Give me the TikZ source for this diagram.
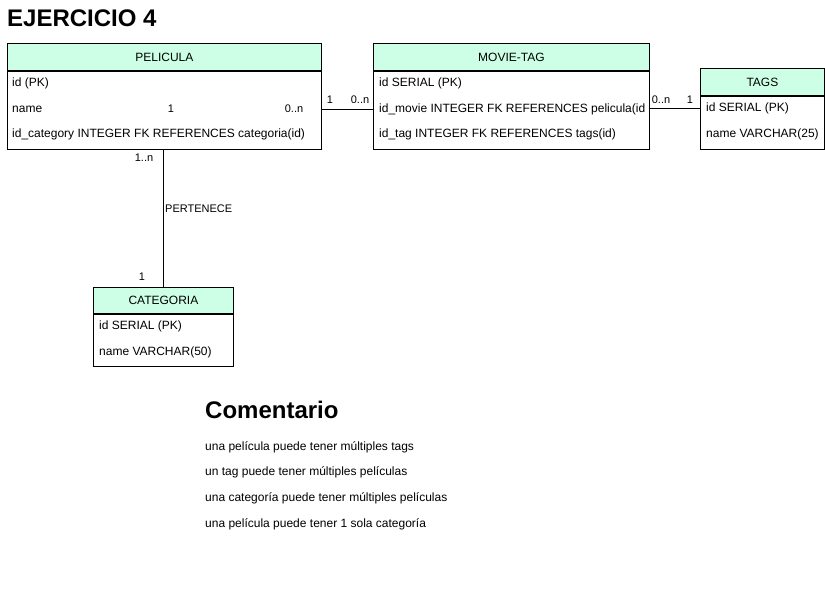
\documentclass[tikz,border=0pt]{standalone}
\usepackage{fontspec}
\setmainfont{Liberation Sans}
\usetikzlibrary{positioning}
\definecolor{ink}{HTML}{000000}
\definecolor{mint}{HTML}{CCFFE6}
\tikzset{
  hdr/.style={draw=ink,fill=mint,line width=0.8pt,anchor=north west,inner sep=0pt,font=\fontsize{12}{14}\selectfont},
  tbody/.style={draw=ink,fill=white,line width=0.8pt,anchor=north west,inner sep=0pt},
  field/.style={anchor=west,inner sep=0pt,font=\fontsize{12}{14}\selectfont},
  card/.style={inner sep=0pt,font=\fontsize{11}{13}\selectfont},
  rel/.style={draw=ink,line width=0.8pt},
  heading/.style={anchor=west,inner sep=0pt,font=\fontsize{24}{28}\selectfont\bfseries},
  note/.style={anchor=west,inner sep=0pt,font=\fontsize{12}{14}\selectfont}
}
\begin{document}
\begin{tikzpicture}[x=1pt,y=-1pt]
  \useasboundingbox (0,0) rectangle (825,601);

  \node[heading] (title) at (7,18) {EJERCICIO 4};

  % PELICULA
  \node[hdr,minimum width=314pt,minimum height=27pt] (pel) at (7,43) {PELICULA};
  \node[tbody,minimum width=314pt,minimum height=78pt] (pelb) at (pel.south west) {};
  \node[field] (pelid) at (12,83) {id (PK)};
  \node[field] (pelname) at (12,109) {name};
  \node[field] (pelcat) at (12,134) {id\_category INTEGER FK REFERENCES categoria(id)};
  \node[card] at (171,109) {1};
  \node[card] at (294,109) {0..n};

  % MOVIE-TAG
  \node[hdr,minimum width=276pt,minimum height=27pt] (mt) at (373,43) {MOVIE-TAG};
  \node[tbody,minimum width=276pt,minimum height=78pt] (mtb) at (mt.south west) {};
  \node[field] (mtid) at (379,83) {id SERIAL (PK)};
  \node[field] (mtmovie) at (379,109) {id\_movie INTEGER FK REFERENCES pelicula(id};
  \node[field] (mttag) at (379,134) {id\_tag INTEGER FK REFERENCES tags(id)};

  % TAGS
  \node[hdr,minimum width=124pt,minimum height=27pt] (tg) at (700,68) {TAGS};
  \node[tbody,minimum width=124pt,minimum height=53pt] (tgb) at (tg.south west) {};
  \node[field] (tgid) at (706,108) {id SERIAL (PK)};
  \node[field] (tgname) at (706,134) {name VARCHAR(25)};

  % CATEGORIA
  \node[hdr,minimum width=140pt,minimum height=26pt] (cat) at (93,287) {CATEGORIA};
  \node[tbody,minimum width=140pt,minimum height=52pt] (catb) at (cat.south west) {};
  \node[field] (catid) at (99,326) {id SERIAL (PK)};
  \node[field] (catname) at (99,352) {name VARCHAR(50)};

  % relaciones
  \draw[rel] (pelb.east |- pelname) -- (mtb.west |- pelname);
  \node[card] at (330,100) {1};
  \node[card] at (360,100) {0..n};

  \draw[rel] (mtb.east |- tgid) -- (tgb.west |- tgid);
  \node[card] at (661,100) {0..n};
  \node[card] at (690,100) {1};

  \draw[rel] (pelb.south -| cat.north) -- (cat.north);
  \node[card] at (144,158) {1..n};
  \node[card,anchor=west] at (165,209) {PERTENECE};
  \node[card] at (142,277) {1};

  % comentario
  \node[heading] (com) at (205,410) {Comentario};
  \node[note] (c1) at (205,447) {una película puede tener múltiples tags};
  \node[note] (c2) at (205,472) {un tag puede tener múltiples películas};
  \node[note] (c3) at (205,498) {una categoría puede tener múltiples películas};
  \node[note] (c4) at (205,524) {una película puede tener 1 sola categoría};
\end{tikzpicture}
\end{document}
